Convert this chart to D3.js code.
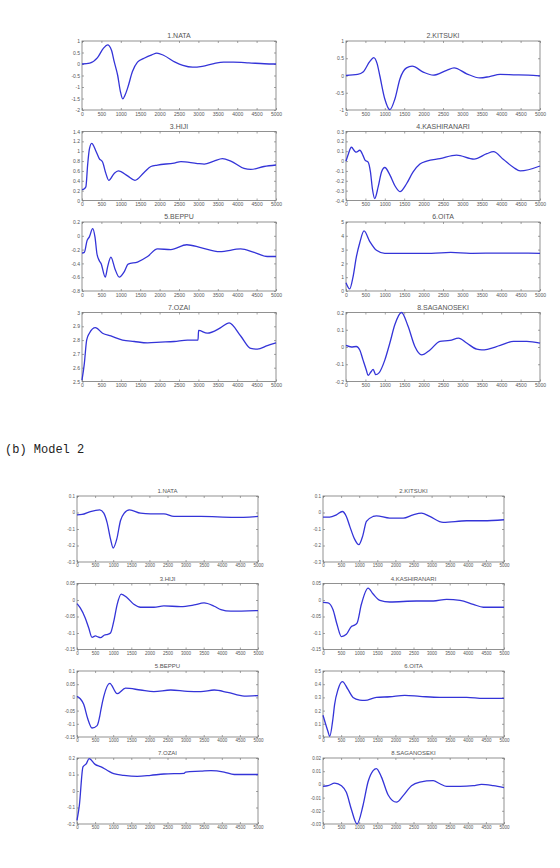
<!DOCTYPE html>
<html>
<head>
<meta charset="utf-8">
<script src="https://cdn.jsdelivr.net/npm/d3@7"></script>
<style>
  body { margin: 0; background: #fff; }
  .tick text { fill: #555; }
</style>
</head>
<body>
<script>

// station titles, same order for both models
var stations = ["1.NATA", "2.KITSUKI", "3.HIJI", "4.KASHIRANARI",
                "5.BEPPU", "6.OITA", "7.OZAI", "8.SAGANOSEKI"]

var xTicks = [0, 500, 1000, 1500, 2000, 2500, 3000, 3500, 4000, 4500, 5000]

// ---- Model 1 series, [time, value] ----
var m1Nata = [[0,0],[200,0.04],[400,0.28],[550,0.68],[660,0.83],[760,0.6],[830,0.1],[920,-0.5],[990,-1.2],[1050,-1.52],[1110,-1.35],[1175,-1.05],[1300,-0.33],[1430,0.08],[1600,0.25],[1800,0.4],[1930,0.47],[2100,0.38],[2400,0.08],[2600,-0.06],[2850,-0.14],[3100,-0.1],[3400,0.02],[3650,0.08],[3900,0.08],[4300,0.05],[4700,0.01],[5000,0]]
var m1Kitsuki = [[0,0],[300,0.03],[440,0.1],[610,0.4],[715,0.52],[800,0.35],[870,0],[1000,-0.68],[1130,-0.99],[1260,-0.68],[1390,-0.1],[1560,0.22],[1705,0.27],[1990,0.1],[2250,0.01],[2595,0.15],[2785,0.22],[3110,0.05],[3450,-0.07],[3700,-0.03],[3970,0.03],[4320,0.02],[4700,0.01],[5000,-0.01]]
var m1Hiji = [[0,0.22],[60,0.24],[100,0.28],[145,0.72],[190,1.04],[250,1.16],[360,1.0],[445,0.85],[530,0.78],[615,0.55],[690,0.41],[830,0.55],[935,0.6],[1175,0.5],[1365,0.41],[1600,0.57],[1775,0.69],[1945,0.72],[2375,0.76],[2550,0.79],[2975,0.75],[3150,0.74],[3400,0.8],[3620,0.85],[3835,0.8],[4175,0.65],[4350,0.63],[4690,0.69],[5000,0.72]]
var m1Kashiranari = [[0,0],[50,0.06],[140,0.14],[225,0.1],[265,0.09],[355,0.11],[440,0.055],[490,0.01],[570,-0.01],[630,-0.11],[680,-0.28],[740,-0.38],[830,-0.26],[915,-0.11],[1000,-0.065],[1130,-0.14],[1260,-0.25],[1390,-0.31],[1560,-0.23],[1730,-0.11],[1905,-0.03],[2080,0],[2420,0.025],[2850,0.06],[3300,0.02],[3630,0.075],[3800,0.095],[4060,0.015],[4320,-0.065],[4490,-0.1],[5000,-0.05]]
var m1Beppu = [[0,-0.25],[60,-0.24],[130,-0.07],[190,-0.015],[275,0.105],[335,-0.02],[385,-0.26],[445,-0.36],[490,-0.4],[600,-0.6],[660,-0.45],[745,-0.31],[850,-0.48],[960,-0.6],[1090,-0.52],[1190,-0.41],[1430,-0.38],[1690,-0.3],[1945,-0.19],[2290,-0.2],[2700,-0.13],[3060,-0.17],[3550,-0.23],[4090,-0.19],[4435,-0.24],[4775,-0.3],[5000,-0.3]]
var m1Oita = [[0,0.6],[95,0.15],[180,1.0],[265,2.44],[355,3.5],[465,4.35],[610,3.6],[785,2.95],[1000,2.73],[1500,2.73],[2200,2.73],[2700,2.8],[3200,2.73],[4000,2.75],[5000,2.73]]
var m1Ozai = [[0,2.51],[60,2.63],[120,2.8],[190,2.85],[345,2.89],[530,2.85],[745,2.83],[1045,2.8],[1345,2.79],[1690,2.78],[2030,2.785],[2375,2.79],[2720,2.8],[2990,2.8],[3005,2.87],[3230,2.85],[3575,2.89],[3790,2.925],[4090,2.83],[4350,2.74],[4520,2.735],[4775,2.76],[5000,2.78]]
var m1Saganoseki = [[0,0.009],[140,0],[265,0.003],[355,-0.017],[440,-0.076],[525,-0.135],[570,-0.165],[640,-0.145],[700,-0.13],[765,-0.16],[850,-0.15],[1000,-0.076],[1130,0.023],[1260,0.13],[1430,0.2],[1600,0.12],[1775,0.003],[1950,-0.046],[2165,-0.017],[2420,0.033],[2680,0.038],[2900,0.052],[3110,0.023],[3370,-0.013],[3500,-0.017],[3975,0.009],[4320,0.033],[4660,0.033],[5000,0.023]]

// ---- Model 2 series ----
var m2Nata = [[0,-0.014],[140,-0.012],[370,0.006],[630,0.016],[740,-0.004],[830,-0.06],[925,-0.16],[1000,-0.215],[1100,-0.16],[1200,-0.05],[1300,-0.005],[1450,0.016],[1755,-0.004],[2030,-0.008],[2400,-0.008],[2680,-0.024],[3420,-0.024],[4345,-0.03],[5000,-0.024]]
var m2Kitsuki = [[0,-0.028],[185,-0.028],[370,-0.014],[535,0.006],[645,-0.024],[740,-0.084],[870,-0.16],[990,-0.195],[1100,-0.14],[1200,-0.054],[1385,-0.024],[1475,-0.02],[1845,-0.034],[2215,-0.034],[2490,-0.014],[2720,-0.004],[2950,-0.024],[3320,-0.06],[3970,-0.05],[4430,-0.05],[5000,-0.044]]
var m2Hiji = [[0,-0.011],[90,-0.024],[230,-0.055],[325,-0.085],[415,-0.113],[510,-0.109],[580,-0.112],[650,-0.114],[760,-0.106],[850,-0.104],[925,-0.1],[1015,-0.065],[1110,-0.013],[1220,0.018],[1385,0.007],[1570,-0.013],[1755,-0.022],[2125,-0.022],[2400,-0.018],[2865,-0.02],[3235,-0.015],[3510,-0.009],[3790,-0.019],[3975,-0.029],[4250,-0.034],[5000,-0.032]]
var m2Kashiranari = [[0,-0.007],[140,-0.009],[275,-0.029],[390,-0.075],[510,-0.111],[645,-0.104],[785,-0.08],[850,-0.077],[940,-0.07],[1060,-0.013],[1245,0.036],[1385,0.018],[1570,-0.001],[1845,-0.006],[2580,-0.003],[3045,-0.003],[3415,0.002],[3785,-0.001],[4150,-0.013],[4430,-0.022],[5000,-0.022]]
var m2Beppu = [[0,0.004],[90,-0.005],[185,-0.026],[295,-0.08],[415,-0.116],[555,-0.107],[630,-0.07],[660,-0.047],[740,0.004],[905,0.053],[1110,0.014],[1340,0.035],[1755,0.028],[2125,0.022],[2590,0.028],[3050,0.023],[3420,0.022],[3790,0.028],[4160,0.019],[4620,0.005],[5000,0.007]]
var m2Oita = [[0,0.165],[140,0.04],[185,0.005],[275,0.14],[320,0.245],[415,0.36],[535,0.42],[690,0.36],[830,0.3],[1015,0.28],[1155,0.277],[1475,0.3],[1845,0.305],[2260,0.315],[2675,0.308],[3230,0.3],[3970,0.3],[4430,0.292],[5000,0.292]]
var m2Ozai = [[0,-0.178],[65,-0.087],[165,0.146],[260,0.166],[335,0.196],[510,0.16],[650,0.148],[830,0.126],[1015,0.105],[1295,0.095],[1665,0.089],[2035,0.095],[2400,0.103],[2960,0.107],[3000,0.115],[3420,0.12],[3700,0.124],[4065,0.115],[4345,0.1],[5000,0.1]]
var m2Saganoseki = [[0,-0.0015],[140,-0.001],[325,0.001],[510,-0.001],[645,-0.006],[785,-0.019],[940,-0.03],[1105,-0.016],[1245,0.002],[1385,0.0105],[1475,0.012],[1615,0.0055],[1800,-0.008],[2030,-0.0135],[2215,-0.0085],[2445,-0.001],[2675,0.0017],[3045,0.0028],[3230,0.0005],[3415,-0.0015],[3785,-0.0015],[4150,-0.001],[4380,0],[4705,-0.001],[5000,-0.0025]]

// y tick labels per panel (first and last = axis limits)
var m1YTicks = [
  [-2, -1.5, -1, -0.5, 0, 0.5, 1],
  [-1, -0.5, 0, 0.5, 1],
  [0, 0.2, 0.4, 0.6, 0.8, 1, 1.2, 1.4],
  [-0.4, -0.3, -0.2, -0.1, 0, 0.1, 0.2, 0.3],
  [-0.8, -0.6, -0.4, -0.2, 0, 0.2],
  [0, 1, 2, 3, 4, 5],
  [2.5, 2.6, 2.7, 2.8, 2.9, 3],
  [-0.2, -0.1, 0, 0.1, 0.2]
]
var m2YTicks = [
  [-0.3, -0.2, -0.1, 0, 0.1],
  [-0.3, -0.2, -0.1, 0, 0.1],
  [-0.15, -0.1, -0.05, 0, 0.05],
  [-0.15, -0.1, -0.05, 0, 0.05],
  [-0.15, -0.1, -0.05, 0, 0.05, 0.1],
  [0, 0.1, 0.2, 0.3, 0.4, 0.5],
  [-0.2, -0.1, 0, 0.1, 0.2],
  [-0.03, -0.02, -0.01, 0, 0.01, 0.02]
]

var m1Series = [m1Nata, m1Kitsuki, m1Hiji, m1Kashiranari, m1Beppu, m1Oita, m1Ozai, m1Saganoseki]
var m2Series = [m2Nata, m2Kitsuki, m2Hiji, m2Kashiranari, m2Beppu, m2Oita, m2Ozai, m2Saganoseki]


var svg = d3.select("body")
  .append("svg")
  .attr("width", 560)
  .attr("height", 868)

var font = "'Liberation Sans', Arial, sans-serif"

// one small matlab-like subplot
function drawPanel(box, series, yTicks, title, sz) {
  var x = d3.scaleLinear().domain([0, 5000]).range([box.left, box.left + box.w])
  var y = d3.scaleLinear()
    .domain([yTicks[0], yTicks[yTicks.length - 1]])
    .range([box.top + box.h, box.top])

  var g = svg.append("g")

  var bottom = g.append("g")
    .attr("transform", "translate(0," + (box.top + box.h) + ")")
    .call(d3.axisBottom(x).tickValues(xTicks).tickFormat(d => String(d)).tickSizeInner(-2).tickSizeOuter(0).tickPadding(2))
  var left = g.append("g")
    .attr("transform", "translate(" + box.left + ",0)")
    .call(d3.axisLeft(y).tickValues(yTicks).tickFormat(d => String(d)).tickSizeInner(-2).tickSizeOuter(0).tickPadding(2))
  var top = g.append("g")
    .attr("transform", "translate(0," + box.top + ")")
    .call(d3.axisTop(x).tickValues(xTicks).tickFormat("").tickSizeInner(-2).tickSizeOuter(0))
  var right = g.append("g")
    .attr("transform", "translate(" + (box.left + box.w) + ",0)")
    .call(d3.axisRight(y).tickValues(yTicks).tickFormat("").tickSizeInner(-2).tickSizeOuter(0))

  ;[bottom, left, top, right].forEach(function (a) {
    a.select(".domain").remove()
    a.selectAll("line").attr("stroke", "#666").attr("stroke-width", 0.6)
    a.selectAll("text").style("font-size", sz.tick + "px").style("font-family", font)
  })

  g.append("rect")
    .attr("x", box.left).attr("y", box.top)
    .attr("width", box.w).attr("height", box.h)
    .attr("fill", "none")
    .attr("stroke", "#777")
    .attr("stroke-width", 0.8)

  var line = d3.line()
    .x(d => x(d[0]))
    .y(d => y(d[1]))
    .curve(d3.curveMonotoneX)

  g.append("path")
    .datum(series)
    .attr("d", line)
    .attr("fill", "none")
    .attr("stroke", "#3434d8")
    .attr("stroke-width", 1.3)

  g.append("text")
    .attr("x", box.left + box.w / 2)
    .attr("y", box.top - 3)
    .attr("text-anchor", "middle")
    .style("font-family", font)
    .style("font-size", sz.title + "px")
    .attr("fill", "#555")
    .text(title)
}

// model 1 grid
var m1Cols = [82, 346], m1Tops = [41, 131.5, 222, 312.5]
m1Series.forEach(function (s, i) {
  var box = { left: m1Cols[i % 2], top: m1Tops[Math.floor(i / 2)], w: 194, h: 69 }
  drawPanel(box, s, m1YTicks[i], stations[i], { tick: 5, title: 7 })
})

// model 2 grid
var m2Cols = [77, 323], m2Tops = [496, 583.5, 671, 758]
m2Series.forEach(function (s, i) {
  var box = { left: m2Cols[i % 2], top: m2Tops[Math.floor(i / 2)], w: 181, h: 66 }
  drawPanel(box, s, m2YTicks[i], stations[i], { tick: 4.5, title: 6 })
})

svg.append("text")
  .attr("x", 5)
  .attr("y", 453)
  .style("font-family", "'Liberation Mono', monospace")
  .style("font-size", "12px")
  .attr("fill", "#222")
  .text("(b) Model 2")

</script>
</body>
</html>
